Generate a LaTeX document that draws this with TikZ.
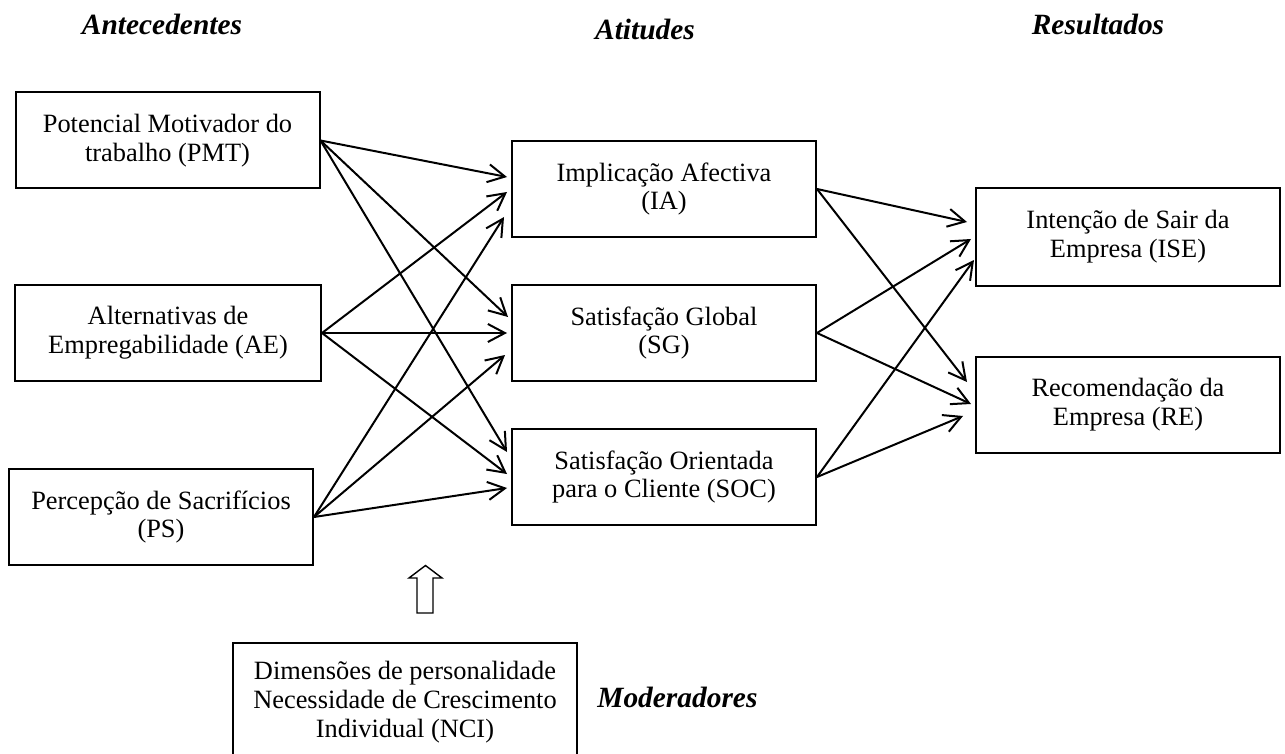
\documentclass[tikz,border=0pt]{standalone}
\usepackage{fontspec}
\setmainfont{Liberation Serif}
\usetikzlibrary{arrows.meta,calc}
\begin{document}
\begin{tikzpicture}[x=0.5pt,y=-0.5pt,
  box/.style={draw,line width=1pt,minimum width=152pt,minimum height=48pt,inner sep=0pt,align=center,font=\fontsize{13.2}{14.4}\selectfont},
  heading/.style={font=\fontsize{14.7}{16}\selectfont\bfseries\itshape,inner sep=0pt},
  arr/.style={line width=1pt,-{Straight Barb[length=8.5pt,width=9pt]}},
  hollow/.style={draw,line width=0.7pt,line join=miter}]
\useasboundingbox (0,0) rectangle (1285,754);
\clip (0,0) rectangle (1285,754);

% headings
\node[heading,anchor=base] (hant) at (162,35) {Antecedentes};
\node[heading,anchor=base] (hati) at (645,40) {Atitudes};
\node[heading,anchor=base] (hres) at (1098,35) {Resultados};
\node[heading,anchor=base west] (hmod) at (597,707) {Moderadores};

% boxes
\node[box] (pmt) at (167.5,140.5) {Potencial Motivador do\\trabalho (PMT)};
\node[box,minimum width=153pt] (ae) at (168,333) {Alternativas de\\Empregabilidade (AE)};
\node[box] (ps) at (161,517) {Percepção de Sacrifícios\\(PS)};
\node[box] (ia) at (664,189) {Implicação Afectiva\\(IA)};
\node[box] (sg) at (664,333) {Satisfação Global\\(SG)};
\node[box] (soc) at (664,477) {Satisfação Orientada\\para o Cliente (SOC)};
\node[box,minimum height=49pt] (ise) at (1128,237) {Intenção de Sair da\\Empresa (ISE)};
\node[box] (re) at (1128,405) {Recomendação da\\Empresa (RE)};
\node[box,minimum width=172pt,minimum height=59pt] (nci) at (405,702) {Dimensões de personalidade\\Necessidade de Crescimento\\Individual (NCI)};

% antecedents -> attitudes
\draw[arr] (pmt.east) -- ($(ia.west)+(-4,-12)$);
\draw[arr] (pmt.east) -- ($(sg.west)+(-3,-16)$);
\draw[arr] (pmt.east) -- ($(soc.west)+(-4,-25)$);
\draw[arr] (ae.east) -- ($(ia.west)+(-4,3)$);
\draw[arr] (ae.east) -- ($(sg.west)+(-4,0)$);
\draw[arr] (ae.east) -- ($(soc.west)+(-4,-3)$);
\draw[arr] (ps.east) -- ($(ia.west)+(-7,28)$);
\draw[arr] (ps.east) -- ($(sg.west)+(-6,22)$);
\draw[arr] (ps.east) -- ($(soc.west)+(-4,11)$);

% attitudes -> results
\draw[arr] (ia.east) -- ($(ise.west)+(-8,-15)$);
\draw[arr] (sg.east) -- ($(ise.west)+(-4,2)$);
\draw[arr] (soc.east) -- ($(ise.west)+(-1,23)$);
\draw[arr] (ia.east) -- ($(re.west)+(-8,-23)$);
\draw[arr] (sg.east) -- ($(re.west)+(-4,-1)$);
\draw[arr] (soc.east) -- ($(re.west)+(-12,11)$);

% hollow moderator arrow
\draw[hollow] (417,613) -- (417,578) -- (409,578) -- (425.5,565.5) -- (442,578) -- (433,578) -- (433,613) -- cycle;
\end{tikzpicture}
\end{document}
